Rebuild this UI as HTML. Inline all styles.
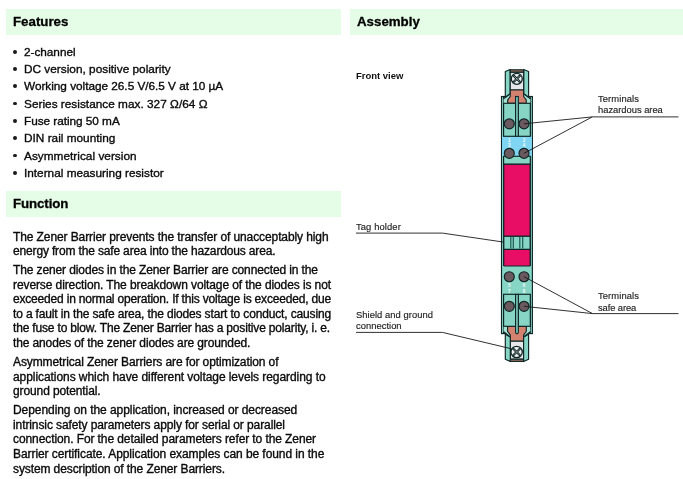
<!DOCTYPE html>
<html><head><meta charset="utf-8"><style>
html,body{margin:0;padding:0;background:#fff;width:683px;height:479px;overflow:hidden}
body{position:relative;font-family:"Liberation Sans",sans-serif}
.t{position:absolute;white-space:nowrap;will-change:transform}
.band{position:absolute;background:#e5fce6}
.bu{position:absolute;left:13.1px;width:3.8px;height:3.8px;border-radius:50%;background:#1b1b1b}
svg{position:absolute;left:0;top:0}
</style></head><body>
<div class="band" style="left:6px;top:9.3px;width:335px;height:26px"></div>
<div class="band" style="left:349.5px;top:9.3px;width:333.5px;height:26px"></div>
<div class="band" style="left:5.5px;top:191px;width:335.5px;height:25.5px"></div>
<div class="bu" style="top:49.80px"></div><div class="bu" style="top:66.90px"></div><div class="bu" style="top:84.20px"></div><div class="bu" style="top:101.50px"></div><div class="bu" style="top:118.80px"></div><div class="bu" style="top:136.10px"></div><div class="bu" style="top:153.70px"></div><div class="bu" style="top:170.80px"></div>
<div class="t" style="left:13.40px;top:15.34px;font-size:13.30px;line-height:13.30px;letter-spacing:-0.006px;-webkit-text-stroke:0.30px currentColor;font-weight:bold;color:#000;">Features</div>
<div class="t" style="left:13.40px;top:197.04px;font-size:13.30px;line-height:13.30px;letter-spacing:-0.106px;-webkit-text-stroke:0.30px currentColor;font-weight:bold;color:#000;">Function</div>
<div class="t" style="left:357.10px;top:15.34px;font-size:13.30px;line-height:13.30px;letter-spacing:-0.005px;-webkit-text-stroke:0.30px currentColor;font-weight:bold;color:#000;">Assembly</div>
<div class="t" style="left:24.20px;top:46.81px;font-size:11.80px;line-height:11.80px;letter-spacing:-0.028px;-webkit-text-stroke:0.35px currentColor;color:#0a0a0a;">2-channel</div>
<div class="t" style="left:24.20px;top:63.91px;font-size:11.80px;line-height:11.80px;letter-spacing:0.016px;-webkit-text-stroke:0.35px currentColor;color:#0a0a0a;">DC version, positive polarity</div>
<div class="t" style="left:24.20px;top:81.21px;font-size:11.80px;line-height:11.80px;letter-spacing:-0.022px;-webkit-text-stroke:0.35px currentColor;color:#0a0a0a;">Working voltage 26.5 V/6.5 V at 10 µA</div>
<div class="t" style="left:24.20px;top:98.51px;font-size:11.80px;line-height:11.80px;letter-spacing:0.018px;-webkit-text-stroke:0.35px currentColor;color:#0a0a0a;">Series resistance max. 327 Ω/64 Ω</div>
<div class="t" style="left:24.20px;top:115.81px;font-size:11.80px;line-height:11.80px;letter-spacing:-0.038px;-webkit-text-stroke:0.35px currentColor;color:#0a0a0a;">Fuse rating 50 mA</div>
<div class="t" style="left:24.20px;top:133.11px;font-size:11.80px;line-height:11.80px;letter-spacing:0.009px;-webkit-text-stroke:0.35px currentColor;color:#0a0a0a;">DIN rail mounting</div>
<div class="t" style="left:24.20px;top:150.71px;font-size:11.80px;line-height:11.80px;letter-spacing:0.025px;-webkit-text-stroke:0.35px currentColor;color:#0a0a0a;">Asymmetrical version</div>
<div class="t" style="left:24.20px;top:167.81px;font-size:11.80px;line-height:11.80px;letter-spacing:0.000px;-webkit-text-stroke:0.35px currentColor;color:#0a0a0a;">Internal measuring resistor</div>
<div class="t" style="left:13.40px;top:231.04px;font-size:12.00px;line-height:12.00px;letter-spacing:-0.100px;-webkit-text-stroke:0.35px currentColor;color:#0a0a0a;">The Zener Barrier prevents the transfer of unacceptably high</div>
<div class="t" style="left:13.40px;top:245.04px;font-size:12.00px;line-height:12.00px;letter-spacing:-0.156px;-webkit-text-stroke:0.35px currentColor;color:#0a0a0a;">energy from the safe area into the hazardous area.</div>
<div class="t" style="left:13.40px;top:264.04px;font-size:12.00px;line-height:12.00px;letter-spacing:-0.114px;-webkit-text-stroke:0.35px currentColor;color:#0a0a0a;">The zener diodes in the Zener Barrier are connected in the</div>
<div class="t" style="left:13.40px;top:279.04px;font-size:12.00px;line-height:12.00px;letter-spacing:-0.098px;-webkit-text-stroke:0.35px currentColor;color:#0a0a0a;">reverse direction. The breakdown voltage of the diodes is not</div>
<div class="t" style="left:13.40px;top:293.04px;font-size:12.00px;line-height:12.00px;letter-spacing:-0.188px;-webkit-text-stroke:0.35px currentColor;color:#0a0a0a;">exceeded in normal operation. If this voltage is exceeded, due</div>
<div class="t" style="left:13.40px;top:308.04px;font-size:12.00px;line-height:12.00px;letter-spacing:-0.147px;-webkit-text-stroke:0.35px currentColor;color:#0a0a0a;">to a fault in the safe area, the diodes start to conduct, causing</div>
<div class="t" style="left:13.40px;top:322.04px;font-size:12.00px;line-height:12.00px;letter-spacing:-0.172px;-webkit-text-stroke:0.35px currentColor;color:#0a0a0a;">the fuse to blow. The Zener Barrier has a positive polarity, i. e.</div>
<div class="t" style="left:13.40px;top:337.04px;font-size:12.00px;line-height:12.00px;letter-spacing:-0.129px;-webkit-text-stroke:0.35px currentColor;color:#0a0a0a;">the anodes of the zener diodes are grounded.</div>
<div class="t" style="left:13.40px;top:356.04px;font-size:12.00px;line-height:12.00px;letter-spacing:-0.105px;-webkit-text-stroke:0.35px currentColor;color:#0a0a0a;">Asymmetrical Zener Barriers are for optimization of</div>
<div class="t" style="left:13.40px;top:371.04px;font-size:12.00px;line-height:12.00px;letter-spacing:-0.067px;-webkit-text-stroke:0.35px currentColor;color:#0a0a0a;">applications which have different voltage levels regarding to</div>
<div class="t" style="left:13.40px;top:385.04px;font-size:12.00px;line-height:12.00px;letter-spacing:-0.113px;-webkit-text-stroke:0.35px currentColor;color:#0a0a0a;">ground potential.</div>
<div class="t" style="left:13.40px;top:404.04px;font-size:12.00px;line-height:12.00px;letter-spacing:-0.065px;-webkit-text-stroke:0.35px currentColor;color:#0a0a0a;">Depending on the application, increased or decreased</div>
<div class="t" style="left:13.40px;top:419.04px;font-size:12.00px;line-height:12.00px;letter-spacing:-0.099px;-webkit-text-stroke:0.35px currentColor;color:#0a0a0a;">intrinsic safety parameters apply for serial or parallel</div>
<div class="t" style="left:13.40px;top:433.04px;font-size:12.00px;line-height:12.00px;letter-spacing:-0.089px;-webkit-text-stroke:0.35px currentColor;color:#0a0a0a;">connection. For the detailed parameters refer to the Zener</div>
<div class="t" style="left:13.40px;top:448.04px;font-size:12.00px;line-height:12.00px;letter-spacing:-0.070px;-webkit-text-stroke:0.35px currentColor;color:#0a0a0a;">Barrier certificate. Application examples can be found in the</div>
<div class="t" style="left:13.40px;top:463.04px;font-size:12.00px;line-height:12.00px;letter-spacing:-0.102px;-webkit-text-stroke:0.35px currentColor;color:#0a0a0a;">system description of the Zener Barriers.</div>
<div class="t" style="left:355.90px;top:70.76px;font-size:9.50px;line-height:9.50px;letter-spacing:-0.012px;-webkit-text-stroke:0.00px currentColor;font-weight:bold;color:#111;">Front view</div>
<div class="t" style="left:597.50px;top:93.94px;font-size:9.40px;line-height:9.40px;letter-spacing:0.110px;-webkit-text-stroke:0.15px currentColor;color:#222;">Terminals</div>
<div class="t" style="left:597.50px;top:104.54px;font-size:9.40px;line-height:9.40px;letter-spacing:-0.025px;-webkit-text-stroke:0.15px currentColor;color:#222;">hazardous area</div>
<div class="t" style="left:356.40px;top:221.94px;font-size:9.40px;line-height:9.40px;letter-spacing:0.111px;-webkit-text-stroke:0.15px currentColor;color:#222;">Tag holder</div>
<div class="t" style="left:355.90px;top:309.84px;font-size:9.40px;line-height:9.40px;letter-spacing:0.050px;-webkit-text-stroke:0.15px currentColor;color:#222;">Shield and ground</div>
<div class="t" style="left:355.90px;top:320.74px;font-size:9.40px;line-height:9.40px;letter-spacing:0.026px;-webkit-text-stroke:0.15px currentColor;color:#222;">connection</div>
<div class="t" style="left:597.50px;top:290.94px;font-size:9.40px;line-height:9.40px;letter-spacing:0.110px;-webkit-text-stroke:0.15px currentColor;color:#222;">Terminals</div>
<div class="t" style="left:597.50px;top:302.94px;font-size:9.40px;line-height:9.40px;letter-spacing:-0.099px;-webkit-text-stroke:0.15px currentColor;color:#222;">safe area</div>
<svg width="683" height="479" viewBox="0 0 683 479"><rect x="501.50" y="96.50" width="30.90" height="237.10" rx="0" fill="#86d5c5" stroke="#0f2626" stroke-width="1.15"/><line x1="503.60" y1="96.50" x2="503.60" y2="136.30" stroke="#0f2626" stroke-width="1.15"/><line x1="503.60" y1="156.30" x2="503.60" y2="266.00" stroke="#0f2626" stroke-width="1.15"/><line x1="503.60" y1="294.30" x2="503.60" y2="333.60" stroke="#0f2626" stroke-width="1.15"/><line x1="530.30" y1="96.50" x2="530.30" y2="136.30" stroke="#0f2626" stroke-width="1.15"/><line x1="530.30" y1="156.30" x2="530.30" y2="266.00" stroke="#0f2626" stroke-width="1.15"/><line x1="530.30" y1="294.30" x2="530.30" y2="333.60" stroke="#0f2626" stroke-width="1.15"/><rect x="502.00" y="136.30" width="29.90" height="20.00" rx="0" fill="#80d6f2" stroke="none" stroke-width="1.15"/><polygon points="503.60,98.80 510.25,93.60 510.25,96.50 507.70,99.80 507.70,103.30 503.60,103.30" fill="#a6e2d4" stroke="none" stroke-width="1.15" stroke-linejoin="round" /><polygon points="530.30,98.80 523.65,93.60 523.65,96.50 526.20,99.80 526.20,103.30 530.30,103.30" fill="#a6e2d4" stroke="none" stroke-width="1.15" stroke-linejoin="round" /><polygon points="505.30,71.50 510.25,69.50 510.25,93.60 505.30,97.20" fill="#86d5c5" stroke="#0f2626" stroke-width="1.15" stroke-linejoin="round" /><polygon points="528.60,71.50 523.65,69.50 523.65,93.60 528.60,97.20" fill="#86d5c5" stroke="#0f2626" stroke-width="1.15" stroke-linejoin="round" /><line x1="503.60" y1="98.80" x2="510.25" y2="93.60" stroke="#0f2626" stroke-width="1.15"/><line x1="530.30" y1="98.80" x2="523.65" y2="93.60" stroke="#0f2626" stroke-width="1.15"/><rect x="510.25" y="69.80" width="13.40" height="2.50" rx="0" fill="#9c6c5e" stroke="#0f2626" stroke-width="1.15"/><rect x="510.25" y="72.30" width="13.40" height="17.70" rx="0" fill="#e7e7ea" stroke="#0f2626" stroke-width="1.15"/><polygon points="510.25,90.00 523.65,90.00 523.65,96.50 526.20,99.80 526.20,103.30 507.70,103.30 507.70,99.80 510.25,96.50" fill="#d2826e" stroke="#0f2626" stroke-width="1.15" stroke-linejoin="round" /><circle cx="516.80" cy="78.80" r="5.50" fill="#f0f0f2" stroke="#0f2626" stroke-width="1.3"/><line x1="513.38" y1="75.38" x2="520.22" y2="82.22" stroke="#0f2626" stroke-width="2.3"/><line x1="513.38" y1="82.22" x2="520.22" y2="75.38" stroke="#0f2626" stroke-width="2.3"/><line x1="514.08" y1="76.08" x2="519.52" y2="81.52" stroke="#cfcfd2" stroke-width="0.6"/><line x1="514.08" y1="81.52" x2="519.52" y2="76.08" stroke="#cfcfd2" stroke-width="0.6"/><rect x="503.60" y="103.30" width="12.00" height="33.00" rx="0" fill="#86d5c5" stroke="#0f2626" stroke-width="1.15"/><rect x="518.30" y="103.30" width="12.00" height="33.00" rx="0" fill="#86d5c5" stroke="#0f2626" stroke-width="1.15"/><rect x="515.60" y="96.50" width="2.70" height="39.80" rx="0" fill="#86d5c5" stroke="#0f2626" stroke-width="1.15"/><circle cx="509.30" cy="123.80" r="5.00" fill="#6a5a5f" stroke="#0f2626" stroke-width="1.15"/><circle cx="524.00" cy="123.80" r="5.00" fill="#6a5a5f" stroke="#0f2626" stroke-width="1.15"/><text x="509.30" y="142.20" font-family="Liberation Sans" font-size="4.6" fill="#f4fbff" text-anchor="middle" font-weight="bold">1</text><text x="509.30" y="147.00" font-family="Liberation Sans" font-size="4.6" fill="#f4fbff" text-anchor="middle" font-weight="bold">3</text><text x="524.00" y="142.20" font-family="Liberation Sans" font-size="4.6" fill="#f4fbff" text-anchor="middle" font-weight="bold">2</text><text x="524.00" y="147.00" font-family="Liberation Sans" font-size="4.6" fill="#f4fbff" text-anchor="middle" font-weight="bold">4</text><rect x="503.60" y="156.30" width="26.70" height="7.90" rx="0" fill="#86d5c5" stroke="#0f2626" stroke-width="1.15"/><circle cx="509.30" cy="153.30" r="5.00" fill="#6a5a5f" stroke="#0f2626" stroke-width="1.15"/><circle cx="524.00" cy="153.30" r="5.00" fill="#6a5a5f" stroke="#0f2626" stroke-width="1.15"/><rect x="503.80" y="164.30" width="26.30" height="72.00" rx="0" fill="#e80e66" stroke="#0f2626" stroke-width="1.15"/><rect x="503.80" y="236.30" width="26.30" height="13.00" rx="0" fill="#86d5c5" stroke="#0f2626" stroke-width="1.15"/><line x1="510.80" y1="237.00" x2="510.80" y2="248.60" stroke="#1f5752" stroke-width="1.2"/><line x1="513.30" y1="237.00" x2="513.30" y2="248.60" stroke="#1f5752" stroke-width="1.2"/><line x1="519.80" y1="237.00" x2="519.80" y2="248.60" stroke="#1f5752" stroke-width="1.2"/><line x1="522.70" y1="237.00" x2="522.70" y2="248.60" stroke="#1f5752" stroke-width="1.2"/><rect x="503.80" y="249.50" width="26.30" height="16.50" rx="0.8" fill="#e80e66" stroke="#0f2626" stroke-width="1.15"/><text x="509.30" y="287.00" font-family="Liberation Sans" font-size="4.6" fill="#f4fbff" text-anchor="middle" font-weight="bold">5</text><text x="509.30" y="292.50" font-family="Liberation Sans" font-size="4.6" fill="#f4fbff" text-anchor="middle" font-weight="bold">7</text><text x="524.00" y="287.00" font-family="Liberation Sans" font-size="4.6" fill="#f4fbff" text-anchor="middle" font-weight="bold">6</text><text x="524.00" y="292.50" font-family="Liberation Sans" font-size="4.6" fill="#f4fbff" text-anchor="middle" font-weight="bold">8</text><circle cx="509.30" cy="276.70" r="5.00" fill="#6a5a5f" stroke="#0f2626" stroke-width="1.15"/><circle cx="524.00" cy="276.70" r="5.00" fill="#6a5a5f" stroke="#0f2626" stroke-width="1.15"/><polygon points="503.60,331.80 510.30,337.00 510.30,334.50 507.60,331.50 507.60,326.30 503.60,326.30" fill="#a6e2d4" stroke="none" stroke-width="1.15" stroke-linejoin="round" /><polygon points="530.30,331.80 523.60,337.00 523.60,334.50 526.30,331.50 526.30,326.30 530.30,326.30" fill="#a6e2d4" stroke="none" stroke-width="1.15" stroke-linejoin="round" /><polygon points="507.60,326.30 526.30,326.30 526.30,331.50 523.60,334.80 523.60,341.20 510.30,341.20 510.30,334.80 507.60,331.50" fill="#d2826e" stroke="#0f2626" stroke-width="1.15" stroke-linejoin="round" /><rect x="503.60" y="294.30" width="12.00" height="32.00" rx="0" fill="#86d5c5" stroke="#0f2626" stroke-width="1.15"/><rect x="518.30" y="294.30" width="12.00" height="32.00" rx="0" fill="#86d5c5" stroke="#0f2626" stroke-width="1.15"/><path d="M515.6,294.3 V332.8 Q516.95,334.8 518.3,332.8 V294.3 Z" fill="#86d5c5" stroke="#0f2626" stroke-width="1.15"/><circle cx="509.30" cy="306.30" r="5.00" fill="#6a5a5f" stroke="#0f2626" stroke-width="1.15"/><circle cx="524.00" cy="306.30" r="5.00" fill="#6a5a5f" stroke="#0f2626" stroke-width="1.15"/><rect x="510.30" y="341.20" width="13.30" height="18.00" rx="0" fill="#e7e7ea" stroke="#0f2626" stroke-width="1.15"/><rect x="510.30" y="359.20" width="13.30" height="2.20" rx="0" fill="#9c6c5e" stroke="#0f2626" stroke-width="1.15"/><circle cx="516.60" cy="352.00" r="5.70" fill="#f0f0f2" stroke="#0f2626" stroke-width="1.3"/><line x1="513.05" y1="348.45" x2="520.15" y2="355.55" stroke="#0f2626" stroke-width="2.3"/><line x1="513.05" y1="355.55" x2="520.15" y2="348.45" stroke="#0f2626" stroke-width="2.3"/><line x1="513.78" y1="349.18" x2="519.42" y2="354.82" stroke="#cfcfd2" stroke-width="0.6"/><line x1="513.78" y1="354.82" x2="519.42" y2="349.18" stroke="#cfcfd2" stroke-width="0.6"/><polygon points="505.30,334.20 510.30,337.00 510.30,361.60 505.30,359.20" fill="#86d5c5" stroke="#0f2626" stroke-width="1.15" stroke-linejoin="round" /><polygon points="528.60,334.20 523.60,337.00 523.60,361.60 528.60,359.20" fill="#86d5c5" stroke="#0f2626" stroke-width="1.15" stroke-linejoin="round" /><line x1="503.60" y1="331.80" x2="510.30" y2="337.00" stroke="#0f2626" stroke-width="1.15"/><line x1="530.30" y1="331.80" x2="523.60" y2="337.00" stroke="#0f2626" stroke-width="1.15"/><polyline points="524.00,123.80 592.30,116.90 678.50,116.90" fill="none" stroke="#1a1a1a" stroke-width="0.9"/><polyline points="524.00,153.30 592.30,116.90" fill="none" stroke="#1a1a1a" stroke-width="0.9"/><polyline points="524.00,276.70 592.50,313.60 678.50,313.60" fill="none" stroke="#1a1a1a" stroke-width="0.9"/><polyline points="524.00,306.30 592.50,313.60" fill="none" stroke="#1a1a1a" stroke-width="0.9"/><polyline points="356.00,233.10 442.50,233.10 503.00,242.00" fill="none" stroke="#1a1a1a" stroke-width="0.9"/><polyline points="356.00,332.40 442.50,332.40 511.50,348.80" fill="none" stroke="#1a1a1a" stroke-width="0.9"/></svg>
</body></html>
